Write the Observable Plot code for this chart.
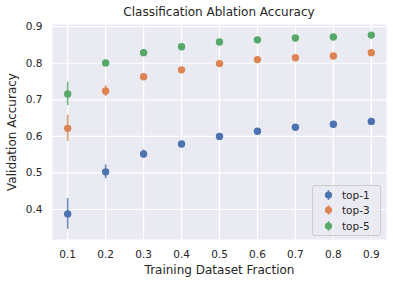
<!DOCTYPE html>
<html>
<head>
<meta charset="utf-8">
<script src="https://cdn.jsdelivr.net/npm/d3@7"></script>
<script src="https://cdn.jsdelivr.net/npm/@observablehq/plot@0.6"></script>
<style>
  html, body { margin: 0; padding: 0; background: #fff; }
  #wrap { position: relative; width: 393px; height: 284px; font-family: "DejaVu Sans", sans-serif; color: #262626; }
  #title { position: absolute; left: 52px; width: 334px; top: 5px; text-align: center; font-size: 12px; }
  #legend { position: absolute; left: 312px; top: 185px; width: 67px; height: 49px; border: 1px solid #cccccc; border-radius: 3px; background: rgba(234,234,242,0.8); font-size: 10.5px; }
  .item { position: absolute; left: 0; height: 14px; display: flex; align-items: center; }
  .item svg { margin-left: 11px; }
  .item span { margin-left: 9px; }
  svg text { fill: #262626; }
</style>
</head>
<body>
<div id="wrap">
  <div id="chart"></div>
  <div id="title">Classification Ablation Accuracy</div>
  <div id="legend"></div>
</div>
<script>
const fractions = [0.1, 0.2, 0.3, 0.4, 0.5, 0.6, 0.7, 0.8, 0.9];
const top1 = [0.388, 0.503, 0.552, 0.579, 0.600, 0.614, 0.625, 0.633, 0.641];
const top1Err = [0.042, 0.019, 0.011, 0.006, 0.004, 0.004, 0.003, 0.003, 0.003];
const top3 = [0.622, 0.724, 0.763, 0.782, 0.799, 0.810, 0.815, 0.820, 0.829];
const top3Err = [0.036, 0.015, 0.006, 0.004, 0.004, 0.003, 0.003, 0.003, 0.003];
const top5 = [0.716, 0.801, 0.829, 0.845, 0.858, 0.864, 0.869, 0.872, 0.877];
const top5Err = [0.032, 0.005, 0.004, 0.004, 0.003, 0.003, 0.003, 0.003, 0.003];
const seriesNames = ["top-1", "top-3", "top-5"];
const seriesColors = ["#4C72B0", "#DD8452", "#55A868"];
const xTicks = [0.1, 0.2, 0.3, 0.4, 0.5, 0.6, 0.7, 0.8, 0.9];
const yTicks = [0.4, 0.5, 0.6, 0.7, 0.8, 0.9];
const xLabel = "Training Dataset Fraction";
const yLabel = "Validation Accuracy";

const vals = [top1, top3, top5];
const errs = [top1Err, top3Err, top5Err];
const data = [];
seriesNames.forEach((s, i) => {
  fractions.forEach((f, j) => {
    data.push({series: s, x: f, y: vals[i][j], lo: vals[i][j] - errs[i][j], hi: vals[i][j] + errs[i][j]});
  });
});

const plot = Plot.plot({
  width: 393,
  height: 284,
  marginLeft: 52,
  marginRight: 7,
  marginTop: 24,
  marginBottom: 45,
  style: {fontFamily: "DejaVu Sans, sans-serif", fontSize: "10.5px", background: "#fff", color: "#262626"},
  x: {domain: [0.06, 0.94]},
  y: {domain: [0.318, 0.906]},
  color: {domain: seriesNames, range: seriesColors},
  marks: [
    Plot.frame({fill: "#EAEAF2", stroke: null}),
    Plot.gridX(xTicks, {stroke: "#fff", strokeOpacity: 1, strokeWidth: 1.2}),
    Plot.gridY(yTicks, {stroke: "#fff", strokeOpacity: 1, strokeWidth: 1.2}),
    Plot.axisX(xTicks, {tickSize: 0, tickPadding: 11, tickFormat: d3.format(".1f"), label: null}),
    Plot.axisY(yTicks, {tickSize: 0, tickPadding: 10, tickFormat: d3.format(".1f"), label: null}),
    Plot.text([xLabel], {frameAnchor: "bottom", text: d => d, dy: 31, lineAnchor: "middle", fontSize: 12, fill: "#262626"}),
    Plot.text([yLabel], {frameAnchor: "left", text: d => d, dx: -40, rotate: -90, textAnchor: "middle", lineAnchor: "middle", fontSize: 12, fill: "#262626"}),
    Plot.ruleX(data, {x: "x", y1: "lo", y2: "hi", stroke: "series", strokeWidth: 1.6, strokeOpacity: 0.8}),
    Plot.dot(data, {x: "x", y: "y", fill: "series", r: 3.7, stroke: null})
  ]
});
document.getElementById("chart").appendChild(plot);

const legend = document.getElementById("legend");
seriesNames.forEach((s, i) => {
  const item = document.createElement("div");
  item.className = "item";
  item.style.top = (2 + i * 15.3) + "px";
  item.innerHTML = `<svg width="9" height="12"><line x1="4.5" x2="4.5" y1="1" y2="11" stroke="${seriesColors[i]}" stroke-width="1.6" stroke-opacity="0.8"/><circle cx="4.5" cy="6" r="3.6" fill="${seriesColors[i]}"/></svg><span>${s}</span>`;
  legend.appendChild(item);
});
</script>
</body>
</html>
